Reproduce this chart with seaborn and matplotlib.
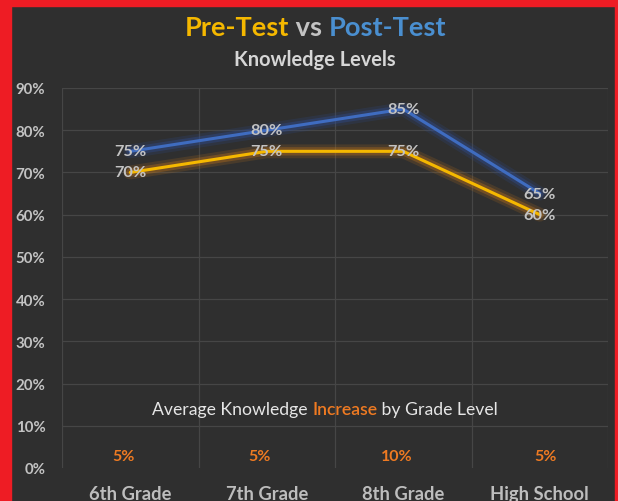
import matplotlib.pyplot as plt
import matplotlib.patheffects as pe
import pandas as pd
import seaborn as sns
from matplotlib.patches import Rectangle

grades = ['6th Grade', '7th Grade', '8th Grade', 'High School']
pre_test = [0.70, 0.75, 0.75, 0.60]
post_test = [0.75, 0.80, 0.85, 0.65]
increase = ['5%', '5%', '10%', '5%']
yticks = [0.0, 0.1, 0.2, 0.3, 0.4, 0.5, 0.6, 0.7, 0.8, 0.9]

bg = '#2f2f2f'
grey = '#c3c3c3'
gold = '#f5b800'
blue = '#3f6cc0'
orange = '#ee7a22'

sns.set_theme(style='dark', rc={'axes.facecolor': bg, 'figure.facecolor': bg})
plt.rcParams['font.family'] = ['Lato', 'DejaVu Sans']

df = pd.DataFrame({'grade': grades * 2,
                   'score': pre_test + post_test,
                   'test': ['Pre-Test'] * 4 + ['Post-Test'] * 4})
df['x'] = [0, 1, 2, 3] * 2

fig = plt.figure(figsize=(6.18, 5.02), dpi=100)
ax = fig.add_axes([62 / 618, 1 - 469 / 502, (608 - 62) / 618, (469 - 89) / 502])

sns.lineplot(data=df, x='x', y='score', hue='test', palette={'Pre-Test': gold, 'Post-Test': blue},
             linewidth=2.2, legend=False, ax=ax)

glow = {'Pre-Test': '#c0741a', 'Post-Test': '#2e4f9a'}
for line, name in zip(ax.get_lines(), ['Pre-Test', 'Post-Test']):
    line.set_path_effects([pe.Stroke(linewidth=10, foreground=glow[name], alpha=0.18),
                           pe.Stroke(linewidth=6, foreground=glow[name], alpha=0.35),
                           pe.Normal()])

for i in range(len(grades)):
    ax.text(i, pre_test[i], f'{pre_test[i]:.0%}', ha='center', va='center',
            color=grey, fontsize=11.8, fontweight='bold')
    ax.text(i, post_test[i], f'{post_test[i]:.0%}', ha='center', va='center',
            color=grey, fontsize=11.8, fontweight='bold')
    ax.text(i - 0.05 if i < 3 else i + 0.04, 0.028, increase[i], ha='center', va='center',
            color=orange, fontsize=11.5, fontweight='bold')

ax.set_xlim(-0.5, 3.5)
ax.set_ylim(0, 0.9)
ax.set_yticks(yticks)
ax.set_yticklabels([f'{v:.0%}' for v in yticks], color=grey, fontsize=10.8, fontweight='bold')
ax.set_xticks(range(len(grades)))
ax.set_xticklabels(grades, color='#bdbdbd', fontsize=13.2, fontweight='bold')
ax.tick_params(axis='y', length=0, pad=12)
ax.tick_params(axis='x', length=0, pad=12)
ax.set_xlabel('')
ax.set_ylabel('')
for s in ax.spines.values():
    s.set_visible(False)

for v in yticks[1:]:
    ax.axhline(v, color='#464646', linewidth=0.9, zorder=0)
for v in [-0.5, 0.5, 1.5, 2.5, 3.5]:
    ax.axvline(v, color='#464646', linewidth=0.9, zorder=0)

# caption line inside the plot
cap = fig.text(152 / 618, 1 - 410 / 502, 'Average Knowledge ', ha='left', va='center',
               color='#e6e6e6', fontsize=12.7)
inc = ax.annotate('Increase', xy=(1, 0), xycoords=cap, ha='left', va='bottom',
                  color=orange, fontsize=12.7, fontweight='semibold', annotation_clip=False)
ax.annotate(' by Grade Level', xy=(1, 0), xycoords=inc, ha='left', va='bottom',
            color='#e6e6e6', fontsize=12.7, annotation_clip=False)

# title
vs = fig.text(309 / 618, 1 - 28 / 502, ' vs ', ha='center', va='center',
              color=grey, fontsize=19.6, fontweight='bold')
ax.annotate('Pre-Test', xy=(0, 0), xycoords=vs, ha='right', va='bottom',
            color=gold, fontsize=19.6, fontweight='bold', annotation_clip=False)
ax.annotate('Post-Test', xy=(1, 0), xycoords=vs, ha='left', va='bottom',
            color='#4a8fd0', fontsize=19.6, fontweight='bold', annotation_clip=False)
fig.text(315 / 618, 1 - 60 / 502, 'Knowledge Levels', ha='center', va='center',
         color='#d6d6d6', fontsize=14.4, fontweight='bold')

# red frame
red = '#ee1c24'
fig.patches.append(Rectangle((0, 0), 11 / 618, 1, transform=fig.transFigure, color=red, zorder=5))
fig.patches.append(Rectangle((0, 1 - 7 / 502), 1, 7 / 502, transform=fig.transFigure, color=red, zorder=5))
fig.patches.append(Rectangle((1 - 3 / 618, 0), 3 / 618, 1, transform=fig.transFigure, color=red, zorder=5))

fig.savefig('out.png', dpi=100, facecolor=bg)
